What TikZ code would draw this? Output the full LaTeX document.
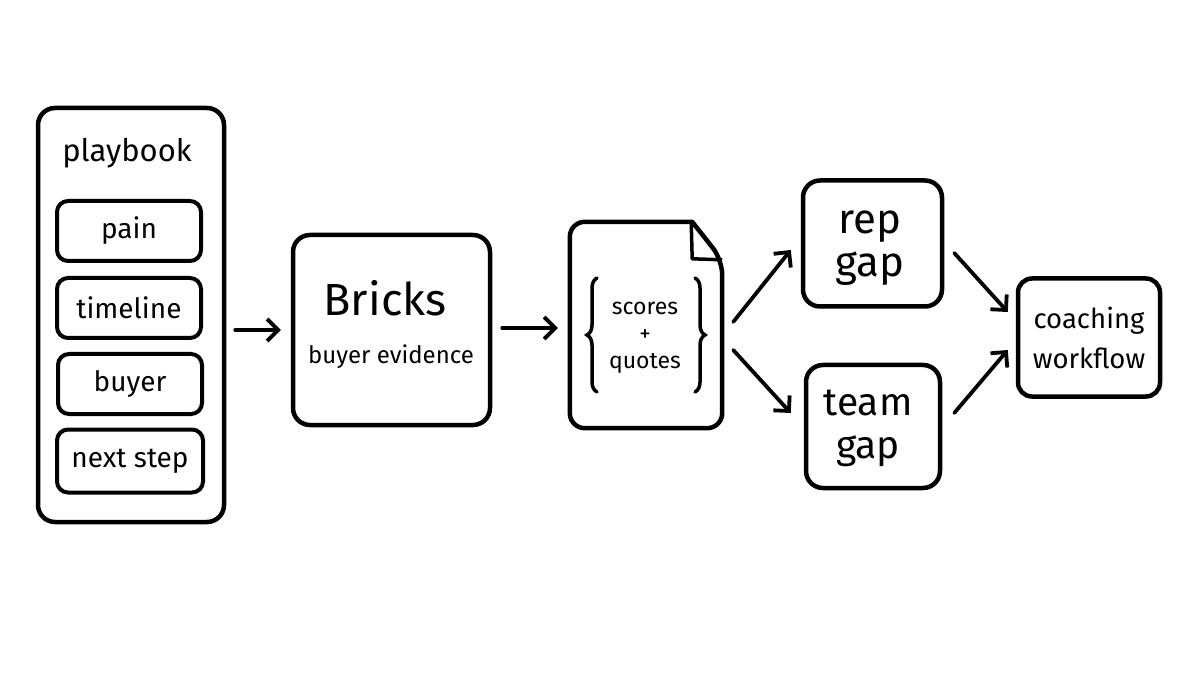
\documentclass[tikz,border=0pt]{standalone}
\usepackage{fontspec}
\setmainfont{Fira Sans}
\usetikzlibrary{arrows.meta,decorations.pathreplacing,calc}
\begin{document}
\begin{tikzpicture}[x=1pt,y=-1pt,
  box/.style={draw, line width=4.5pt, rounded corners=17pt, inner sep=0pt, align=center},
  sub/.style={draw, line width=4pt, rounded corners=11pt, inner sep=0pt, minimum width=144pt, minimum height=60pt, font=\fontsize{28}{30}\selectfont},
  arr/.style={line width=3.8pt, line cap=round, -{Straight Barb[length=11pt,width=22pt,line width=3.8pt]}},
  brc/.style={line width=3.5pt, line cap=round, decorate, decoration={brace, amplitude=10pt}},
  lbl/.style={inner sep=0pt, align=center}]
\fill[white] (0,0) rectangle (1200,676);
\useasboundingbox (0,0) rectangle (1200,676);

% playbook column
\node[box, minimum width=186pt, minimum height=414pt] (pb) at (131,315) {};
\node[lbl, font=\fontsize{31}{33}\selectfont] (pbt) at (127,153) {playbook};
\node[sub] (pain) at (129,231) {pain};
\node[sub] (time) at (129,308) {timeline};
\node[sub] (buyer) at (130,384) {buyer};
\node[sub, minimum width=146pt, minimum height=63pt] (next) at (130,461) {next step};

% Bricks
\node[box, minimum width=197pt, minimum height=190pt] (bricks) at (391.5,330) {};
\node[lbl, font=\fontsize{45}{47}\selectfont] (brt) at (385,298) {Bricks};
\node[lbl, font=\fontsize{24}{26}\selectfont] (bre) at (391,357) {buyer evidence};

% document
\node[inner sep=0pt, minimum width=152pt, minimum height=206pt] (doc) at (646,325) {};
\draw[line width=4.5pt, line join=round, rounded corners=15pt]
  ([shift={(-30,0)}]doc.north east) -- (doc.north west) -- (doc.south west) -- (doc.south east)
  -- ([shift={(0,38)}]doc.north east) [sharp corners] -- ([shift={(-30,0)}]doc.north east) -- cycle;
\draw[line width=3.5pt, line join=round]
  ([shift={(-31,0)}]doc.north east) -- ([shift={(-30,37)}]doc.north east) -- ([shift={(0,38)}]doc.north east);
\node[lbl, font=\fontsize{23}{27}\selectfont] (dt) at (645,338) {scores\\+\\quotes};
\draw[brc] (597,392) -- (597,278);
\draw[brc] (695,278) -- (695,392);

% gaps
\node[box, minimum width=139pt, minimum height=126pt] (rep) at (872.5,243.5) {};
\node[lbl, font=\fontsize{42}{43}\selectfont] (rept) at (870,248) {rep\\gap};
\node[box, minimum width=134pt, minimum height=123pt] (team) at (873,426.5) {};
\node[lbl, font=\fontsize{39}{43}\selectfont] (teamt) at (868,428) {team\\gap};
\node[box, minimum width=142pt, minimum height=118pt, rounded corners=14pt, font=\fontsize{27.5}{40}\selectfont] (coach) at (1089,337.5) {coaching\\workflow};

% arrows
\draw[arr, shorten <=9pt, shorten >=10pt] (pb.east |- bricks.west) -- (bricks.west);
\draw[arr] ([shift={(10,-2)}]bricks.east) -- ([shift={(-12,3)}]doc.west);
\draw[arr] ([shift={(11,-3)}]doc.east) -- ([shift={(-10,6.5)}]rep.west);
\draw[arr] ([shift={(11,25)}]doc.east) -- ([shift={(-13,-13.5)}]team.west);
\draw[arr] ([shift={(10,9.5)}]rep.east) -- ([shift={(-8,-25.5)}]coach.west);
\draw[arr] ([shift={(12,-13.5)}]team.east) -- ([shift={(-8,12.5)}]coach.west);
\end{tikzpicture}
\end{document}
